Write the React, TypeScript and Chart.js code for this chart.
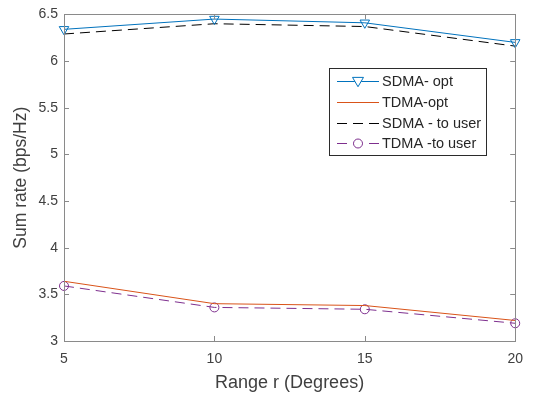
import React, { useEffect, useRef } from "react";
import { Chart, registerables } from "chart.js";

Chart.register(...registerables);

const ranges = [5, 10, 15, 20];
const sdmaOpt = [6.34, 6.45, 6.41, 6.2];
const tdmaOpt = [3.64, 3.4, 3.38, 3.22];
const sdmaToUser = [6.29, 6.4, 6.37, 6.16];
const tdmaToUser = [3.59, 3.36, 3.34, 3.19];
const yTicks = [3, 3.5, 4, 4.5, 5, 5.5, 6, 6.5];
const xTicks = [5, 10, 15, 20];
const xTitle = "Range r (Degrees)";
const yTitle = "Sum rate (bps/Hz)";

const AXIS = "#8a8a8a";
const TEXT = "#404040";
const FONT = "'Liberation Sans', Arial, sans-serif";

const boxPlugin = {
  id: "matlabBox",
  afterDatasetsDraw(chart: any) {
    const { ctx, chartArea: a, scales } = chart;
    ctx.save();
    ctx.strokeStyle = AXIS;
    ctx.lineWidth = 1;
    ctx.strokeRect(Math.round(a.left) + 0.5, Math.round(a.top) + 0.5, Math.round(a.right - a.left), Math.round(a.bottom - a.top));
    const tl = 5;
    ctx.beginPath();
    for (const v of xTicks) {
      const x = Math.round(scales.x.getPixelForValue(v)) + 0.5;
      ctx.moveTo(x, a.bottom);
      ctx.lineTo(x, a.bottom - tl);
      ctx.moveTo(x, a.top);
      ctx.lineTo(x, a.top + tl);
    }
    for (const v of yTicks) {
      const y = Math.round(scales.y.getPixelForValue(v)) + 0.5;
      ctx.moveTo(a.left, y);
      ctx.lineTo(a.left + tl, y);
      ctx.moveTo(a.right, y);
      ctx.lineTo(a.right - tl, y);
    }
    ctx.stroke();

    // y axis title, centred on the axis
    ctx.save();
    ctx.translate(21, (a.top + a.bottom) / 2);
    ctx.rotate(-Math.PI / 2);
    ctx.fillStyle = TEXT;
    ctx.font = `17.5px ${FONT}`;
    ctx.textAlign = "center";
    ctx.textBaseline = "middle";
    ctx.fillText(yTitle, 0, 0);
    ctx.restore();

    // legend
    const lx = 329, ly = 68, lw = 157, lh = 87;
    ctx.fillStyle = "#ffffff";
    ctx.fillRect(lx, ly, lw, lh);
    ctx.strokeStyle = "#2b2b2b";
    ctx.strokeRect(lx + 0.5, ly + 0.5, lw, lh);
    const rows = [81, 102, 123, 143];
    chart.data.datasets.forEach((ds: any, i: number) => {
      const y = rows[i] + 0.5;
      ctx.save();
      ctx.strokeStyle = ds.borderColor;
      ctx.lineWidth = ds.borderWidth;
      ctx.setLineDash(ds.borderDash || []);
      ctx.beginPath();
      ctx.moveTo(337, y);
      ctx.lineTo(379, y);
      ctx.stroke();
      ctx.setLineDash([]);
      if (ds.pointRadius > 0) {
        const cx = 358;
        ctx.beginPath();
        if (ds.pointStyle === "triangle") {
          const r = ds.pointRadius;
          ctx.moveTo(cx - r, y - r * 0.75);
          ctx.lineTo(cx + r, y - r * 0.75);
          ctx.lineTo(cx, y + r * 0.95);
          ctx.closePath();
        } else {
          ctx.arc(cx, y, ds.pointRadius, 0, Math.PI * 2);
        }
        ctx.fillStyle = "#ffffff";
        ctx.fill();
        ctx.stroke();
      }
      ctx.restore();
      ctx.fillStyle = "#262626";
      ctx.font = `14.5px ${FONT}`;
      ctx.textBaseline = "middle";
      ctx.textAlign = "left";
      ctx.fillText(ds.label, 382, y);
    });
    ctx.restore();
  },
};

export default function App() {
  const ref = useRef<HTMLCanvasElement>(null);
  useEffect(() => {
    document.body.style.margin = "0";
    const toXY = (arr: number[]) => arr.map((v, i) => ({ x: ranges[i], y: v }));
    const chart = new Chart(ref.current!, {
      type: "line",
      data: {
        datasets: [
          {
            label: "SDMA- opt",
            data: toXY(sdmaOpt),
            borderColor: "#0072BD",
            backgroundColor: "rgba(255,255,255,0)",
            borderWidth: 1,
            pointStyle: "triangle",
            pointRotation: 180,
            pointRadius: 5.5,
            pointBorderWidth: 1,
            pointBackgroundColor: "rgba(255,255,255,0)",
            clip: false,
          },
          {
            label: "TDMA-opt",
            data: toXY(tdmaOpt),
            borderColor: "#D95319",
            backgroundColor: "rgba(255,255,255,0)",
            borderWidth: 1,
            pointRadius: 0,
            clip: false,
          },
          {
            label: "SDMA - to user",
            data: toXY(sdmaToUser),
            borderColor: "#000000",
            backgroundColor: "rgba(255,255,255,0)",
            borderWidth: 1,
            borderDash: [10, 6],
            pointRadius: 0,
            clip: false,
          },
          {
            label: "TDMA -to user",
            data: toXY(tdmaToUser),
            borderColor: "#7E2F8E",
            backgroundColor: "rgba(255,255,255,0)",
            borderWidth: 1,
            borderDash: [10, 6],
            pointStyle: "circle",
            pointRadius: 4.5,
            pointBorderWidth: 1,
            pointBackgroundColor: "rgba(255,255,255,0)",
            clip: false,
          },
        ],
      },
      options: {
        animation: false,
        responsive: false,
        layout: { padding: { left: 0, top: 12, right: 14, bottom: 0 } },
        plugins: { legend: { display: false }, tooltip: { enabled: false } },
        elements: { line: { tension: 0 } },
        scales: {
          x: {
            type: "linear",
            min: 5,
            max: 20,
            afterBuildTicks: (s: any) => { s.ticks = xTicks.map((v) => ({ value: v })); },
            afterFit: (s: any) => { s.height = 53; },
            grid: { display: false, drawTicks: false },
            border: { display: false },
            ticks: { color: TEXT, font: { family: FONT, size: 14 }, padding: 10, callback: (v: any) => String(v) },
            title: { display: true, text: xTitle, color: TEXT, font: { family: FONT, size: 18 }, padding: { top: 2, bottom: 0 } },
          },
          y: {
            type: "linear",
            min: 3,
            max: 6.5,
            afterBuildTicks: (s: any) => { s.ticks = yTicks.map((v) => ({ value: v })); },
            afterFit: (s: any) => { s.width = 64; },
            grid: { display: false, drawTicks: false },
            border: { display: false },
            ticks: { color: TEXT, font: { family: FONT, size: 14 }, padding: 6, callback: (v: any) => String(v) },
          },
        },
      },
      plugins: [boxPlugin],
    } as any);
    return () => chart.destroy();
  }, []);
  return (
    <div style={{ width: 533, height: 394, background: "#fff" }}>
      <canvas ref={ref} width={533} height={394} style={{ display: "block", width: 533, height: 394 }} />
    </div>
  );
}
